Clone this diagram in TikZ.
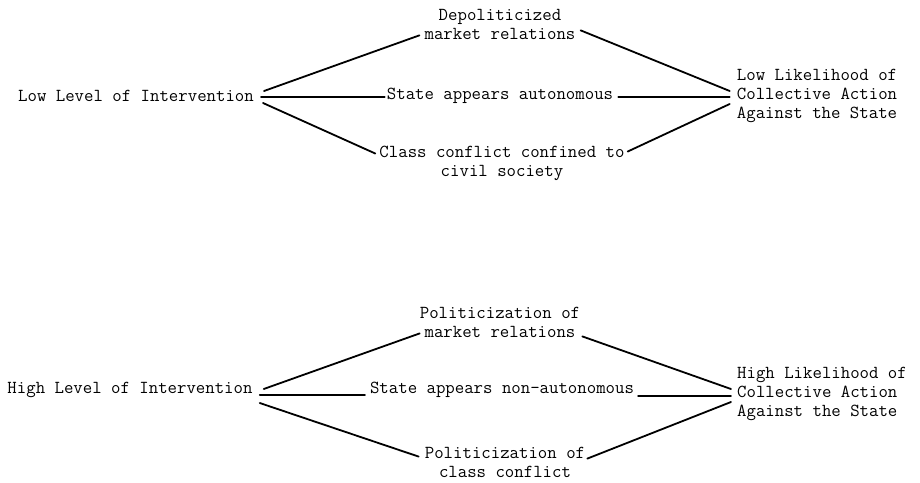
\documentclass[tikz,border=0pt]{standalone}
\usepackage{tikz}
\usetikzlibrary{positioning,calc}
\tikzset{
  termbox/.style={
    inner sep=2pt,
    align=center,
    font=\ttfamily\fontsize{18.3}{19}\selectfont
  },
  outcomebox/.style={termbox, align=left},
  link/.style={line width=1.8pt, line cap=round}
}

\begin{document}
\begin{tikzpicture}[x=1pt, y=-1pt]
\useasboundingbox (0,0) rectangle (920,482);
% low intervention
\node[termbox] (lowint) at (136,96) {Low Level of Intervention};
\node[termbox] (lowdep) at (500,24) {Depoliticized\\market relations};
\node[termbox] (lowaut) at (500,96) {State appears autonomous};
\node[termbox] (lowcls) at (502,163) {Class conflict confined to\\civil society};
\node[outcomebox] (lowlik) at (817,96) {Low Likelihood of\\Collective Action\\Against the State};

\draw[link] ([xshift=8pt,yshift=5pt]lowint.east) -- ([xshift=-3pt,yshift=6pt]lowdep.south west);
\draw[link] ([xshift=5pt,yshift=-1pt]lowint.east) -- ([yshift=-1pt]lowaut.west);
\draw[link] ([xshift=7pt,yshift=-7pt]lowint.east) -- ([xshift=-2pt,yshift=-10pt]lowcls.north west);
\draw[link] ([xshift=3pt,yshift=11pt]lowdep.south east) -- ([xshift=-5pt,yshift=5pt]lowlik.west);
\draw[link] ([xshift=3pt,yshift=-1pt]lowaut.east) -- ([xshift=-5pt,yshift=-1pt]lowlik.west);
\draw[link] ([xshift=1pt,yshift=-8pt]lowcls.north east) -- ([xshift=-5pt,yshift=-8pt]lowlik.west);

% high intervention
\node[termbox] (highint) at (130,390) {High Level of Intervention};
\node[termbox] (highpol) at (500,322) {Politicization of\\market relations};
\node[termbox] (highaut) at (502,390) {State appears non-autonomous};
\node[termbox] (highcls) at (505,462) {Politicization of\\class conflict};
\node[outcomebox] (highlik) at (822,394) {High Likelihood of\\Collective Action\\Against the State};

\draw[link] ([xshift=9pt,yshift=1pt]highint.east) -- ([xshift=2pt,yshift=6pt]highpol.south west);
\draw[link] ([xshift=5pt,yshift=-5pt]highint.east) -- ([xshift=-3pt,yshift=-5pt]highaut.west);
\draw[link] ([xshift=5pt,yshift=-13pt]highint.east) -- ([xshift=-4pt,yshift=-12pt]highcls.north west);
\draw[link] ([yshift=3pt]highpol.south east) -- ([xshift=-4pt,yshift=5pt]highlik.west);
\draw[link] ([xshift=2pt,yshift=-6pt]highaut.east) -- ([xshift=-4pt,yshift=-2pt]highlik.west);
\draw[link] ([yshift=-14pt]highcls.north east) -- ([xshift=-4pt,yshift=-8pt]highlik.west);
\end{tikzpicture}
\end{document}
